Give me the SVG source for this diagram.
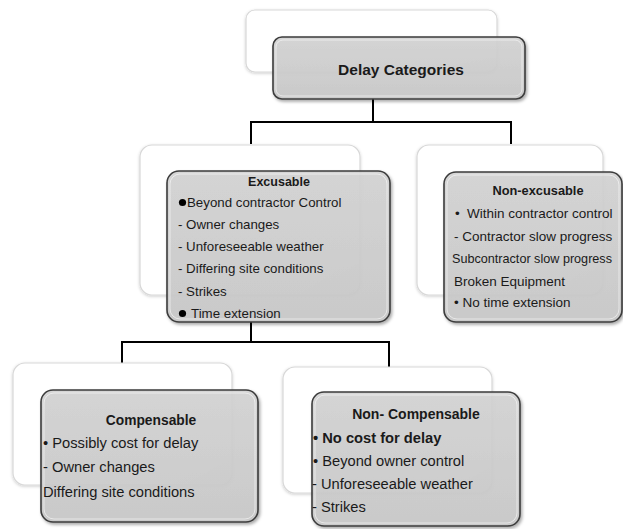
<svg xmlns="http://www.w3.org/2000/svg" width="623" height="529" viewBox="0 0 623 529">
<defs>
<linearGradient id="gFront" x1="0" y1="0" x2="0" y2="1">
<stop offset="0" stop-color="#d4d4d4"/>
<stop offset="1" stop-color="#c9c9c9"/>
</linearGradient>
<linearGradient id="gBack" x1="0" y1="0" x2="1" y2="1">
<stop offset="0" stop-color="#ffffff"/>
<stop offset="0.85" stop-color="#ffffff"/>
<stop offset="1" stop-color="#eeeeee"/>
</linearGradient>
<filter id="sh" x="-10%" y="-10%" width="125%" height="125%">
<feDropShadow dx="1.5" dy="2" stdDeviation="1.5" flood-color="#000" flood-opacity="0.35"/>
</filter>
<filter id="shb" x="-10%" y="-10%" width="125%" height="125%">
<feDropShadow dx="0" dy="1" stdDeviation="1.5" flood-color="#000" flood-opacity="0.2"/>
</filter>
</defs>
<style>
.back{fill:url(#gBack);stroke:#d8d8d8;stroke-width:1.2;filter:url(#shb)}
.front{fill:url(#gFront);fill-opacity:0.9;stroke:#3c3c3c;stroke-width:1.6;filter:url(#sh)}
.hl{fill:none;stroke:#ffffff;stroke-opacity:0.55;stroke-width:1}
.t{font-family:"Liberation Sans",Arial,sans-serif;font-size:13.3px;fill:#1a1a1a}
.t2{font-family:"Liberation Sans",Arial,sans-serif;font-size:13.5px;fill:#1a1a1a}
.t3{font-family:"Liberation Sans",Arial,sans-serif;font-size:14.7px;fill:#1a1a1a}
.b{font-weight:bold}
.title{font-family:"Liberation Sans",Arial,sans-serif;font-weight:bold;fill:#1a1a1a}
.conn{fill:none;stroke:#000;stroke-width:2}
</style>
<rect width="623" height="529" fill="#ffffff"/>
<g id="connectors">
<path class="conn" d="M373,98 V122 M251,144 V122 H511 V144"/>
<path class="conn" d="M251,322 V342 M122,363 V342 H389 V367"/>
</g>
<g id="delay-categories">
<rect class="back" x="246" y="10" width="251" height="62" rx="9"/>
<rect class="front" x="273" y="37" width="252" height="62" rx="9"/>
<rect class="hl" x="276" y="40" width="246" height="56" rx="7"/>
<text class="title" font-size="15.5" x="401" y="75" text-anchor="middle">Delay Categories</text>
</g>
<g id="excusable">
<rect class="back" x="140" y="145" width="220" height="150" rx="12"/>
<rect class="front" x="167" y="171" width="223" height="151" rx="12"/>
<rect class="hl" x="170" y="174" width="217" height="145" rx="10"/>
<text class="title" font-size="12.5" x="279" y="186" text-anchor="middle">Excusable</text>
<circle cx="182.5" cy="202.5" r="3.6" fill="#000"/>
<text class="t" x="187" y="207">Beyond contractor Control</text>
<text class="t" x="178" y="229">- Owner changes</text>
<text class="t" x="178" y="251">- Unforeseeable weather</text>
<text class="t" x="178" y="273">- Differing site conditions</text>
<text class="t" x="178" y="296">- Strikes</text>
<circle cx="182.5" cy="313.5" r="3.6" fill="#000"/>
<text class="t" x="191" y="318">Time extension</text>
</g>
<g id="non-excusable">
<rect class="back" x="417" y="145" width="186" height="150" rx="12"/>
<rect class="front" x="444" y="172" width="178" height="150" rx="12"/>
<rect class="hl" x="447" y="175" width="172" height="144" rx="10"/>
<text class="title" font-size="12.8" x="538" y="195" text-anchor="middle">Non-excusable</text>
<text class="t2" x="455" y="218">•</text>
<text class="t2" x="467" y="218">Within contractor control</text>
<text class="t2" x="454" y="241">- Contractor slow progress</text>
<text class="t2" x="452" y="263" font-size="13" textLength="160" lengthAdjust="spacingAndGlyphs">Subcontractor slow progress</text>
<text class="t2" x="454" y="286">Broken Equipment</text>
<text class="t2" x="454" y="307">• No time  extension</text>
</g>
<g id="compensable">
<rect class="back" x="13" y="363" width="219" height="122" rx="12"/>
<rect class="front" x="41" y="390" width="217" height="132" rx="12"/>
<rect class="hl" x="44" y="393" width="211" height="126" rx="10"/>
<text class="title" font-size="13.8" x="151" y="425" text-anchor="middle">Compensable</text>
<text class="t3" x="43" y="448">• Possibly cost for delay</text>
<text class="t3" x="43" y="472">- Owner changes</text>
<text class="t3" x="43" y="497">Differing site conditions</text>
</g>
<g id="non-compensable">
<rect class="back" x="283" y="367" width="209" height="126" rx="12"/>
<rect class="front" x="312" y="392" width="208" height="134" rx="12"/>
<rect class="hl" x="315" y="395" width="202" height="128" rx="10"/>
<text class="title" font-size="14" x="416" y="419" text-anchor="middle">Non- Compensable</text>
<text class="t3 b" x="313" y="443">• No cost for delay</text>
<text class="t3" x="313" y="466">• Beyond owner control</text>
<text class="t3" x="312" y="489">- Unforeseeable weather</text>
<text class="t3" x="312" y="512">- Strikes</text>
</g>
</svg>
